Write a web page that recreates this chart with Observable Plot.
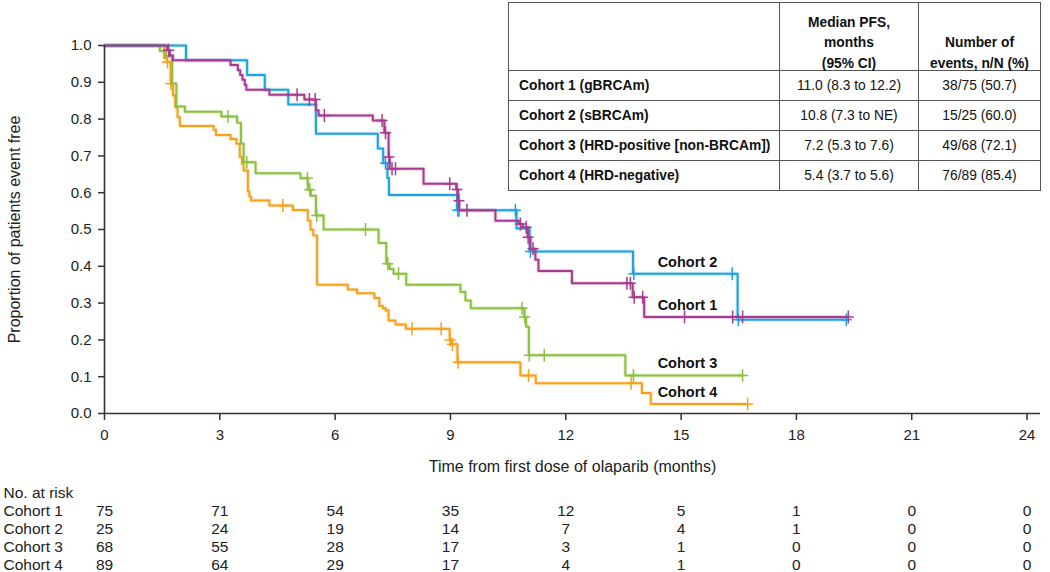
<!DOCTYPE html>
<html><head><meta charset="utf-8">
<script src="https://cdn.jsdelivr.net/npm/d3@7"></script>
<script src="https://cdn.jsdelivr.net/npm/@observablehq/plot@0.6"></script>
<style>
body{margin:0;background:#fff;font-family:"Liberation Sans",Arial,sans-serif;}
#wrap{position:relative;width:1050px;height:572px;overflow:hidden;background:#fff;}
#wrap svg{display:block;}
table.stats{position:absolute;left:508px;top:2px;width:532px;table-layout:fixed;border-collapse:collapse;font-size:13.8px;color:#111;background:#fff;}
table.stats td{border:1.2px solid #555;padding:0 4px;height:29px;text-align:center;white-space:nowrap;}
table.stats tr.hd td{height:67px;vertical-align:bottom;font-weight:bold;line-height:20.5px;padding-bottom:0;}
table.stats tr.hd td div{transform:translateY(4px);}
table.stats td.lab{text-align:left;font-weight:bold;padding-left:10px;}
</style></head><body><div id="wrap"></div>
<script>
// ---------- data ----------
const cohortNames = ["Cohort 1", "Cohort 2", "Cohort 3", "Cohort 4"];
const cohortColors = ["#a63c8f", "#1ea2de", "#8cc03f", "#f7a11b"];

// Cohort 1 (gBRCAm) KM step points
const c1Time = [0,1.63,1.70,1.78,3.28,3.47,3.53,3.59,3.65,3.69,4.29,5.20,5.50,5.57,6.98,7.28,7.39,7.42,8.30,9.15,9.20,9.23,10.17,10.78,10.88,11.01,11.08,11.21,11.29,12.16,13.74,14.04,19.35];
const c1Surv = [1,0.987,0.973,0.960,0.947,0.933,0.920,0.907,0.893,0.880,0.866,0.853,0.824,0.810,0.796,0.763,0.697,0.665,0.624,0.609,0.578,0.552,0.524,0.515,0.506,0.479,0.448,0.418,0.387,0.354,0.316,0.262,0.262];
const c1Cens = [1.67,5.01,5.33,5.48,5.72,7.22,7.31,7.40,7.48,7.57,8.98,9.17,9.22,9.43,10.82,10.97,11.02,11.15,13.59,13.68,13.78,14.0,15.09,16.34,16.6,19.35];

// Cohort 2 (sBRCAm)
const c2Time = [0,2.12,3.71,4.17,4.78,5.50,7.11,7.25,7.36,7.40,9.17,10.72,11.06,13.75,16.47,19.3];
const c2Surv = [1,0.96,0.92,0.88,0.84,0.76,0.72,0.68,0.64,0.594,0.552,0.503,0.44,0.38,0.255,0.255];
const c2Cens = [7.31,9.19,9.22,10.69,11.08,13.77,16.33,16.49,19.3];

// Cohort 3 (HRD-positive non-BRCAm)
const c3Time = [0,1.44,1.60,1.76,1.87,2.09,3.04,3.45,3.55,3.62,3.93,5.10,5.29,5.37,5.50,5.70,7.13,7.33,7.42,7.52,7.85,9.26,9.39,9.53,10.92,10.97,11.04,13.55,16.6];
const c3Surv = [1,0.985,0.971,0.897,0.834,0.820,0.807,0.790,0.733,0.683,0.653,0.639,0.608,0.592,0.538,0.500,0.463,0.407,0.393,0.380,0.350,0.330,0.307,0.286,0.262,0.236,0.158,0.103,0.103];
const c3Cens = [3.21,3.70,5.28,5.34,5.52,6.79,7.37,7.65,10.86,10.93,11.05,11.44,13.76,16.6];

// Cohort 4 (HRD-negative)
const c4Time = [0,1.55,1.62,1.72,1.78,1.84,1.90,1.96,2.84,2.90,3.28,3.43,3.52,3.58,3.62,3.73,3.77,3.81,4.29,4.90,5.29,5.36,5.43,5.53,6.33,6.57,7.02,7.15,7.24,7.32,7.39,7.57,7.84,8.98,9.02,9.18,10.82,11.22,13.98,14.21,16.73];
const c4Surv = [1,0.966,0.955,0.896,0.864,0.832,0.805,0.781,0.771,0.757,0.746,0.733,0.697,0.677,0.660,0.604,0.590,0.579,0.565,0.553,0.524,0.499,0.484,0.350,0.337,0.327,0.314,0.292,0.286,0.280,0.253,0.242,0.230,0.200,0.188,0.139,0.103,0.082,0.056,0.026,0.026];
const c4Cens = [1.64,1.73,4.64,8.00,8.76,8.99,9.05,9.20,11.03,13.70,16.73];

// curve end labels
const curveLabels = ["Cohort 2", "Cohort 1", "Cohort 3", "Cohort 4"];
const curveLabelX = [14.39, 14.39, 14.39, 14.39];
const curveLabelY = [0.41, 0.293, 0.136, 0.058];

// axes
const xTicks = [0, 3, 6, 9, 12, 15, 18, 21, 24];
const yTicks = [0, 0.1, 0.2, 0.3, 0.4, 0.5, 0.6, 0.7, 0.8, 0.9, 1.0];
const xDomain = [0, 24.35];

// at-risk table
const riskRows = ["No. at risk", "Cohort 1", "Cohort 2", "Cohort 3", "Cohort 4"];
const risk1 = [75, 71, 54, 35, 12, 5, 1, 0, 0];
const risk2 = [25, 24, 19, 14, 7, 4, 1, 0, 0];
const risk3 = [68, 55, 28, 17, 3, 1, 0, 0, 0];
const risk4 = [89, 64, 29, 17, 4, 1, 0, 0, 0];

// summary table
const tblLabels = ["Cohort 1 (gBRCAm)", "Cohort 2 (sBRCAm)", "Cohort 3 (HRD-positive [non-BRCAm])", "Cohort 4 (HRD-negative)"];
const tblMedian = ["11.0 (8.3 to 12.2)", "10.8 (7.3 to NE)", "7.2 (5.3 to 7.6)", "5.4 (3.7 to 5.6)"];
const tblEvents = ["38/75 (50.7)", "15/25 (60.0)", "49/68 (72.1)", "76/89 (85.4)"];

// ---------- build ----------
const times = [c1Time, c2Time, c3Time, c4Time];
const survs = [c1Surv, c2Surv, c3Surv, c4Surv];
const cens = [c1Cens, c2Cens, c3Cens, c4Cens];

function survAt(t, s, x) {
  let v = s[0];
  for (let i = 0; i < t.length; i++) if (t[i] <= x) v = s[i];
  return v;
}

const font = "Liberation Sans, Arial, Helvetica, sans-serif";
const plusSym = {
  draw(ctx, size) {
    const r = Math.sqrt(size / Math.PI);
    ctx.moveTo(-r * 0.85, 0); ctx.lineTo(r * 0.85, 0);
    ctx.moveTo(0, -r); ctx.lineTo(0, r);
  }
};

const marks = [];
for (let k = 3; k >= 0; k--) {
  const pts = times[k].map((t, i) => ({t, s: survs[k][i]}));
  marks.push(Plot.line(pts, {x: "t", y: "s", curve: "step-after", stroke: cohortColors[k], strokeWidth: 4, strokeOpacity: 0.22}));
  marks.push(Plot.line(pts, {x: "t", y: "s", curve: "step-after", stroke: cohortColors[k], strokeWidth: 2}));
  const cp = cens[k].map(t => ({t, s: survAt(times[k], survs[k], t)}));
  marks.push(Plot.dot(cp, {x: "t", y: "s", symbol: plusSym, r: 6.5, stroke: cohortColors[k], fill: "none", strokeWidth: 1.5}));
}
const labData = curveLabels.map((n, i) => ({n, x: curveLabelX[i], y: curveLabelY[i]}));

const chart = Plot.plot({
  width: 1050, height: 478,
  marginLeft: 104, marginRight: 10, marginTop: 45, marginBottom: 65,
  style: {fontFamily: font, fontSize: "15px", color: "#222", background: "transparent", overflow: "visible"},
  x: {domain: xDomain},
  y: {domain: [0, 1]},
  marks: [
    Plot.axisX({ticks: xTicks, tickSize: 7, tickPadding: 9, fontSize: 15, stroke: "#333", strokeWidth: 1.5,
      label: "Time from first dose of olaparib (months)", labelAnchor: "center", labelArrow: "none", labelOffset: 58}),
    Plot.axisY({ticks: yTicks, tickSize: 6, tickPadding: 7, fontSize: 15, stroke: "#333", strokeWidth: 1.5, tickFormat: d3.format(".1f"),
      label: "Proportion of patients event free", labelAnchor: "center", labelArrow: "none", labelOffset: 96}),
    ...marks,
    Plot.ruleY([0], {stroke: "#333", strokeWidth: 1.6}),
    Plot.ruleX([0], {y1: 0, y2: 1, stroke: "#333", strokeWidth: 1.6}),
    Plot.text(labData, {x: "x", y: "y", text: "n", textAnchor: "start", fontWeight: "bold", fontSize: 14.5, fill: "#111"})
  ]
});
chart.querySelectorAll("g[aria-label='x-axis label'] text, g[aria-label='y-axis label'] text").forEach(t => t.style.fontSize = "16px");

const riskData = [];
[risk1, risk2, risk3, risk4].forEach((arr, k) => arr.forEach((n, i) => riskData.push({row: cohortNames[k], t: xTicks[i], n})));

const riskPlot = Plot.plot({
  width: 1050, height: 94,
  marginLeft: 104, marginRight: 10, marginTop: 0, marginBottom: 0,
  style: {fontFamily: font, fontSize: "15.5px", color: "#222", background: "transparent", overflow: "visible"},
  x: {domain: xDomain, axis: null},
  y: {type: "point", domain: riskRows, range: [14, 88], padding: 0, axis: null},
  marks: [
    Plot.text(riskData, {x: "t", y: "row", text: d => String(d.n), fontSize: 15.5, fill: "#222"}),
    Plot.text(riskRows, {y: d => d, text: d => d, frameAnchor: "left", textAnchor: "start", dx: -101, fontSize: 15.5, fill: "#222"})
  ]
});

const wrap = document.getElementById("wrap");
wrap.appendChild(chart);
wrap.appendChild(riskPlot);

// summary table overlay
const tbl = document.createElement("table");
tbl.className = "stats";
let html = '<colgroup><col style="width:271px"><col style="width:139px"><col style="width:122px"></colgroup>';
html += '<tr class="hd"><td></td><td><div>Median PFS,<br>months<br>(95% CI)</div></td><td><div>Number of<br>events, n/N (%)</div></td></tr>';
tblLabels.forEach((l, i) => {
  html += `<tr><td class="lab">${l}</td><td>${tblMedian[i]}</td><td>${tblEvents[i]}</td></tr>`;
});
tbl.innerHTML = html;
wrap.appendChild(tbl);
</script></body></html>
